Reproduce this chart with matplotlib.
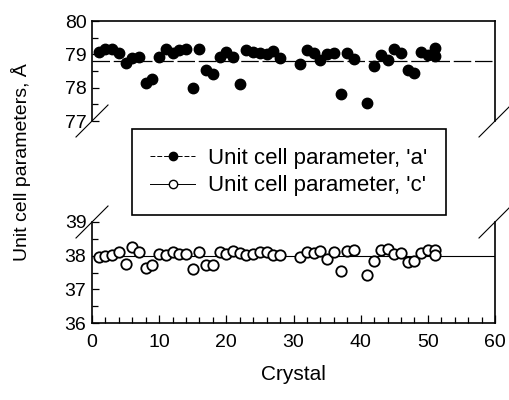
import matplotlib
matplotlib.use("Agg")
import matplotlib.pyplot as plt
from matplotlib.lines import Line2D
from matplotlib.ticker import MultipleLocator

plt.rcParams["font.family"] = ["Liberation Sans", "DejaVu Sans"]

# Unit cell parameter 'a' per crystal
crystal_a = [1, 2, 3, 4, 5, 6, 7, 8, 9, 10, 11, 12, 13, 14, 15, 16, 17, 18, 19, 20,
             21, 22, 23, 24, 25, 26, 27, 28, 31, 32, 33, 34, 35, 36, 37, 38, 39,
             41, 42, 43, 44, 45, 46, 47, 48, 49, 50, 51, 51]
param_a = [79.08, 79.15, 79.15, 79.03, 78.73, 78.88, 78.93, 78.13, 78.25, 78.93,
           79.15, 79.05, 79.13, 79.15, 77.98, 79.15, 78.53, 78.41, 78.93, 79.08,
           78.93, 78.11, 79.13, 79.08, 79.03, 79.01, 79.11, 78.88, 78.71, 79.13,
           79.05, 78.83, 79.01, 79.03, 77.80, 79.05, 78.85,
           77.55, 78.65, 78.98, 78.83, 79.15, 79.05, 78.53, 78.45, 79.08, 78.98,
           79.18, 78.95]

# Unit cell parameter 'c' per crystal
crystal_c = [1, 2, 3, 4, 5, 6, 7, 8, 9, 10, 11, 12, 13, 14, 15, 16, 17, 18, 19, 20,
             21, 22, 23, 24, 25, 26, 27, 28, 31, 32, 33, 34, 35, 36, 37, 38, 39,
             41, 42, 43, 44, 45, 46, 47, 48, 49, 50, 51, 51]
param_c = [37.96, 38.00, 38.02, 38.10, 37.75, 38.27, 38.10, 37.64, 37.72, 38.05,
           38.02, 38.10, 38.05, 38.05, 37.60, 38.12, 37.73, 37.72, 38.10, 38.06,
           38.13, 38.08, 38.02, 38.06, 38.10, 38.10, 38.03, 38.03, 37.96, 38.10,
           38.08, 38.13, 37.90, 38.10, 37.54, 38.13, 38.18,
           37.44, 37.83, 38.16, 38.20, 38.06, 38.08, 37.80, 37.85, 38.08, 38.16,
           38.18, 38.03]

mean_a = 78.81
mean_c = 37.98

W, H = 509, 400
fig = plt.figure(figsize=(W / 100, H / 100), dpi=100)

L, R = 92 / W, 495 / W
ax_top = fig.add_axes([L, 1 - 121 / H, R - L, (121 - 21) / H])
ax_bot = fig.add_axes([L, 1 - 323 / H, R - L, (323 - 222) / H])

ms = 7.5
ax_top.axhline(mean_a, color="black", lw=0.9, dashes=(14, 3), zorder=1)
ax_top.plot(crystal_a, param_a, "o", color="black", ms=ms, zorder=3)
ax_bot.axhline(mean_c, color="black", lw=0.8, zorder=1)
ax_bot.plot(crystal_c, param_c, "o", mfc="white", mec="black", mew=1.3, ms=ms, zorder=3)

ax_top.set_ylim(77, 80)
ax_bot.set_ylim(36, 39)
for ax in (ax_top, ax_bot):
    ax.set_xlim(0, 60)
    ax.yaxis.set_major_locator(MultipleLocator(1))
    ax.yaxis.set_minor_locator(MultipleLocator(0.5))
    ax.tick_params(axis="both", which="both", direction="in", labelsize=14,
                   width=0.9, colors="black")
    ax.tick_params(axis="y", which="major", length=5, pad=4)
    ax.tick_params(axis="y", which="minor", length=4)
    for s in ax.spines.values():
        s.set_linewidth(1.2)

ax_top.spines["bottom"].set_visible(False)
ax_top.tick_params(axis="x", which="both", bottom=False, labelbottom=False)
ax_bot.spines["top"].set_visible(False)
ax_bot.xaxis.set_major_locator(MultipleLocator(10))
ax_bot.xaxis.set_minor_locator(MultipleLocator(2))
ax_bot.tick_params(axis="x", which="major", length=6, pad=8)
ax_bot.tick_params(axis="x", which="minor", length=4)

# Diagonal break marks at the ends of the cut axes
dx, dy = 16 / W, 16 / H
for yb in (1 - 121 / H, 1 - 222 / H):
    for xb in (L, R):
        fig.add_artist(Line2D([xb - dx, xb + dx], [yb - dy, yb + dy],
                              transform=fig.transFigure, color="black", lw=0.8))

handles = [
    Line2D([], [], color="black", lw=0.7, dashes=(5, 2), marker="o", ms=6,
           mfc="black", mec="black"),
    Line2D([], [], color="black", lw=0.7, marker="o", ms=6,
           mfc="white", mec="black", mew=1.0),
]
fig.legend(handles, ["Unit cell parameter, 'a'", "Unit cell parameter, 'c'"],
           loc="center", bbox_to_anchor=((125 + 453) / 2 / W, 1 - 172 / H),
           fontsize=16, frameon=True, fancybox=False, edgecolor="black",
           framealpha=1, handlelength=2.0, borderpad=0.85, labelspacing=0.3,
           handletextpad=0.6, borderaxespad=0).get_frame().set_linewidth(1.2)

fig.text(21 / W, 1 - 162 / H, "Unit cell parameters, Å", rotation=90,
         ha="center", va="center", fontsize=14)
fig.text((92 + 495) / 2 / W, 1 - 375 / H, "Crystal", ha="center", va="center",
         fontsize=15)

fig.savefig("out.png", dpi=100)
